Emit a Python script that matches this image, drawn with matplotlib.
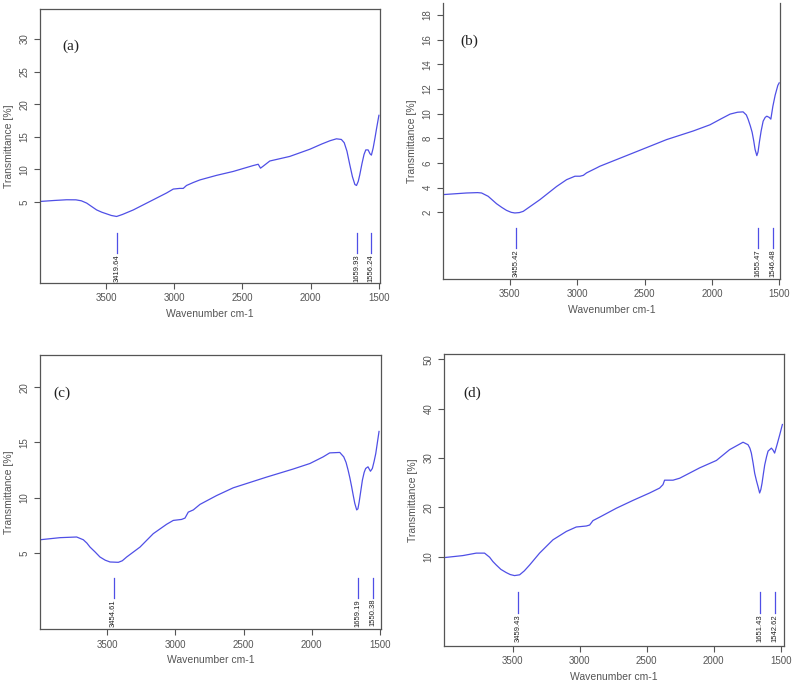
import numpy as np
import matplotlib
matplotlib.use("Agg")
import matplotlib.pyplot as plt

plt.rcParams['font.family'] = ['Liberation Sans', 'DejaVu Sans']

### spectra (wavenumber, transmittance)
wn_a = [3983, 3880, 3788, 3720, 3680, 3641, 3610, 3568, 3530, 3495, 3460, 3422, 3380, 3300,
        3178, 3056, 3007, 2960, 2934, 2910, 2861, 2812, 2690, 2568, 2422, 2385, 2368, 2349,
        2300, 2154, 2007, 1920, 1860, 1812, 1776, 1755, 1735, 1715, 1695, 1677, 1665, 1652,
        1641, 1625, 1610, 1597, 1580, 1566, 1556, 1543, 1530, 1518, 1501]
tr_a = [5.1, 5.25, 5.36, 5.35, 5.2, 4.85, 4.4, 3.8, 3.45, 3.2, 2.95, 2.8, 3.1, 3.8,
        5.1, 6.4, 7.0, 7.1, 7.1, 7.55, 8.0, 8.4, 9.1, 9.7, 10.6, 10.8, 10.2, 10.5,
        11.3, 12.0, 13.1, 13.9, 14.4, 14.7, 14.6, 14.1, 12.8, 10.8, 8.9, 7.7, 7.55, 8.2,
        9.2, 10.9, 12.3, 13.0, 13.0, 12.4, 12.2, 13.3, 14.8, 16.3, 18.3]

wn_b = [3995, 3822, 3740, 3710, 3661, 3630, 3599, 3560, 3525, 3490, 3463, 3430, 3401, 3277,
        3153, 3079, 3017, 2980, 2955, 2931, 2894, 2857, 2832, 2584, 2337, 2139, 2015, 1930,
        1865, 1810, 1769, 1745, 1732, 1715, 1702, 1690, 1680, 1667, 1658, 1648, 1635, 1620,
        1605, 1593, 1575, 1563, 1548, 1531, 1511, 1501]
tr_b = [3.44, 3.57, 3.6, 3.57, 3.3, 3.0, 2.7, 2.4, 2.16, 2.0, 1.95, 1.98, 2.08, 3.03,
        4.1, 4.65, 4.93, 4.93, 5.0, 5.2, 5.4, 5.6, 5.74, 6.82, 7.9, 8.6, 9.1, 9.6,
        9.97, 10.12, 10.15, 9.9, 9.56, 9.0, 8.5, 7.8, 7.1, 6.6, 6.9, 7.7, 8.6, 9.4,
        9.7, 9.8, 9.7, 9.56, 10.6, 11.5, 12.3, 12.5]

wn_c = [3994, 3847, 3725, 3676, 3650, 3627, 3590, 3554, 3515, 3480, 3419, 3390, 3358, 3260,
        3163, 3065, 3016, 2955, 2930, 2906, 2869, 2820, 2698, 2576, 2331, 2136, 2013, 1916,
        1868, 1794, 1765, 1748, 1733, 1720, 1707, 1695, 1684, 1670, 1661, 1652, 1640, 1628,
        1615, 1604, 1587, 1569, 1555, 1542, 1530, 1518, 1506]
tr_c = [6.2, 6.39, 6.45, 6.2, 5.9, 5.54, 5.1, 4.64, 4.35, 4.19, 4.16, 4.3, 4.64, 5.54,
        6.75, 7.6, 7.95, 8.04, 8.16, 8.7, 8.9, 9.4, 10.2, 10.9, 11.87, 12.6, 13.1, 13.7,
        14.06, 14.1, 13.7, 13.2, 12.5, 11.8, 11.0, 10.2, 9.5, 8.9, 9.0, 9.6, 10.6, 11.6,
        12.3, 12.65, 12.8, 12.4, 12.65, 13.3, 14.0, 15.0, 16.0]

wn_d = [4011, 3874, 3774, 3712, 3674, 3650, 3625, 3590, 3550, 3520, 3488, 3450, 3415, 3375,
        3301, 3201, 3101, 3027, 2952, 2927, 2902, 2852, 2728, 2603, 2479, 2404, 2379, 2367,
        2304, 2254, 2105, 1980, 1881, 1781, 1744, 1730, 1719, 1706, 1694, 1680, 1669, 1657,
        1648, 1639, 1629, 1619, 1605, 1594, 1569, 1557, 1545, 1527, 1507, 1487]
tr_d = [9.8, 10.2, 10.7, 10.7, 9.86, 9.0, 8.3, 7.4, 6.75, 6.35, 6.14, 6.3, 7.1, 8.3,
        10.7, 13.4, 15.1, 16.0, 16.2, 16.4, 17.3, 18.0, 19.8, 21.4, 22.9, 23.9, 24.6, 25.5,
        25.5, 25.9, 28.0, 29.5, 31.7, 33.2, 32.7, 32.0, 31.0, 29.0, 26.9, 25.3, 24.2, 22.9,
        23.6, 24.9, 26.8, 28.6, 30.3, 31.4, 32.0, 31.6, 31.0, 32.7, 34.7, 36.8]

peaks_a = [3419.64, 1659.93, 1556.24]
peaks_b = [3455.42, 1655.47, 1546.48]
peaks_c = [3454.61, 1659.19, 1550.38]
peaks_d = [3459.43, 1651.43, 1542.62]

labels = ["(a)", "(b)", "(c)", "(d)"]

fig = plt.figure(figsize=(8, 6.87), dpi=100)

# left, bottom, width, height / xlim / ylim / yticks / marker y-range / label pos
panels = [
    ([0.050, 0.588, 0.425, 0.399], (3983, 1493), (-7.4, 34.6), np.arange(5, 31, 5), (0.25, -2.8), (0.065, 0.865)),
    ([0.554, 0.594, 0.421, 0.402], (3995, 1495), (-3.4, 19.0), np.arange(2, 19, 2), (0.7, -0.93), (0.05, 0.86)),
    ([0.050, 0.084, 0.426, 0.399], (3994, 1493), (-1.9, 22.9), np.arange(5, 21, 5), (2.74, 0.94), (0.038, 0.86)),
    ([0.555, 0.060, 0.425, 0.424], (4015, 1475), (-8.1, 51.0), np.arange(10, 51, 10), (2.9, -1.4), (0.056, 0.868)),
]
spectra = [(wn_a, tr_a, peaks_a), (wn_b, tr_b, peaks_b), (wn_c, tr_c, peaks_c), (wn_d, tr_d, peaks_d)]

grey = '#555555'
blue = '#4f4fe6'

for i, ((rect, xl, yl, yt, (m0, m1), (lx, ly)), (wn, tr, pk)) in enumerate(zip(panels, spectra)):
    ax = fig.add_axes(rect)
    ax.plot(wn, tr, color=blue, lw=0.9)
    for p in pk:
        ax.plot([p, p], [m0, m1], color=blue, lw=0.9)
        ax.text(p, m1 - (yl[1] - yl[0]) * 0.004, f"{p:.2f}", rotation=90, ha='center', va='top',
                fontsize=5.5, color='#222222')
    ax.set_xlim(*xl)
    ax.set_ylim(*yl)
    ax.set_xticks([3500, 3000, 2500, 2000, 1500])
    ax.set_yticks(yt)
    for lab in ax.get_yticklabels():
        lab.set_rotation(90)
        lab.set_va('center')
    ax.tick_params(colors=grey, labelcolor=grey, labelsize=7, length=4, width=0.8)
    for s in ax.spines.values():
        s.set_color(grey)
        s.set_linewidth(0.9)
    if i == 1:
        ax.spines['top'].set_visible(False)
    ax.set_xlabel("Wavenumber cm-1", fontsize=7.5, color=grey, labelpad=4)
    ax.set_ylabel("Transmittance [%]", fontsize=7.5, color=grey, labelpad=4)
    ax.text(lx, ly, labels[i], transform=ax.transAxes, fontsize=11, va='center', ha='left',
            family='Liberation Serif', color='#222222')

plt.savefig("out.png", dpi=100)
